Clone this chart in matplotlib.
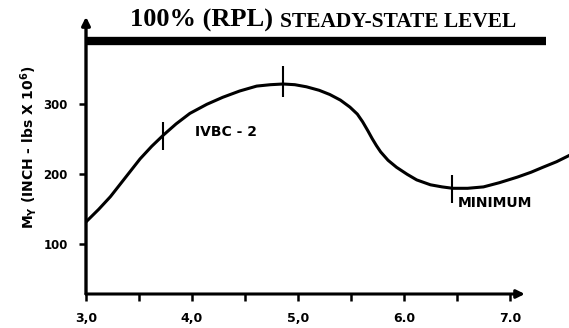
import matplotlib
matplotlib.use("Agg")
import matplotlib.pyplot as plt

# ---------------- Data ----------------
x_curve = [3.0, 3.12, 3.23, 3.37, 3.51, 3.62, 3.73, 3.85, 3.98, 4.14, 4.29,
           4.45, 4.61, 4.74, 4.86, 4.97, 5.08, 5.20, 5.30, 5.40, 5.49, 5.56,
           5.61, 5.66, 5.70, 5.74, 5.78, 5.85, 5.93, 6.03, 6.12, 6.25, 6.36,
           6.46, 6.60, 6.75, 6.90, 7.07, 7.20, 7.31, 7.44, 7.56]
my_curve = [132, 150, 168, 195, 222, 240, 256, 272, 287, 300, 310,
            319, 326, 328, 329, 328, 325, 320, 314, 306, 296, 286,
            275, 262, 251, 241, 232, 220, 210, 200, 192, 185, 182,
            180, 180, 182, 188, 196, 203, 210, 218, 227]

# scatter bands drawn as vertical bars
err_x = [3.73, 4.86, 6.45]
err_lo = [235, 310, 159]
err_hi = [275, 355, 199]

steady_level = 390
steady_x = [3.0, 7.34]

x_ticks = [3.0, 4.0, 5.0, 6.0, 7.0]
x_ticklabels = ["3,0", "4,0", "5,0", "6.0", "7.0"]
x_minor = [3.5, 4.5, 5.5, 6.5]
y_ticks = [100, 200, 300]
y_ticklabels = ["100", "200", "300"]

X_MIN, X_MAX, X_ARROW = 3.0, 7.557, 7.14
Y_MIN, Y_MAX, Y_ARROW = 29, 449, 425

# ---------------- Figure ----------------
fig = plt.figure(figsize=(5.69, 3.28), dpi=100)
ax = fig.add_axes([86 / 569, 34 / 328, 483 / 569, 294 / 328])
ax.set_xlim(X_MIN, X_MAX)
ax.set_ylim(Y_MIN, Y_MAX)
for s in ax.spines.values():
    s.set_visible(False)

# axes drawn by hand with arrow heads
ax.annotate("", xy=(X_MIN, Y_ARROW), xytext=(X_MIN, Y_MIN),
            arrowprops=dict(arrowstyle="-|>", lw=2.4, color="k",
                            mutation_scale=12, shrinkA=0, shrinkB=0),
            annotation_clip=False)
ax.annotate("", xy=(X_ARROW, Y_MIN), xytext=(X_MIN, Y_MIN),
            arrowprops=dict(arrowstyle="-|>", lw=2.2, color="k",
                            mutation_scale=12, shrinkA=0, shrinkB=0),
            annotation_clip=False)

# steady-state level bar
ax.plot(steady_x, [steady_level, steady_level], color="k", lw=6,
        solid_capstyle="butt")

# curve + scatter bars
ax.plot(x_curve, my_curve, color="k", lw=2.2, solid_joinstyle="round")
ax.vlines(err_x, err_lo, err_hi, color="k", lw=1.5)

# ticks
ax.set_xticks(x_ticks)
ax.set_xticklabels(x_ticklabels, fontsize=9, fontweight="bold")
ax.set_xticks(x_minor, minor=True)
ax.set_yticks(y_ticks)
ax.set_yticklabels(y_ticklabels, fontsize=8.5, fontweight="bold")
ax.tick_params(axis="both", which="both", direction="out", length=5,
               width=1.8, pad=8)

ax.set_ylabel(r"M$_{\mathbf{Y}}$ (INCH - lbs X 10$^{\mathbf{6}}$)",
              fontsize=10, fontweight="bold", labelpad=3)

# annotations
ax.text(4.03, 260, "IVBC - 2", fontsize=10, fontweight="bold",
        va="center", ha="left")
ax.text(6.51, 159, "MINIMUM", fontsize=10, fontweight="bold",
        va="center", ha="left")

# title in two sizes
t1 = fig.text(130 / 569, 1 - 27 / 328, "100% (RPL) ", fontsize=19,
              fontweight="bold", family="Liberation Serif", va="baseline")
fig.canvas.draw()
ax.annotate("STEADY-STATE LEVEL", xy=(1, 0), xycoords=t1, va="bottom",
            ha="left", fontsize=15.4, fontweight="bold",
            family="Liberation Serif", annotation_clip=False)

fig.savefig("out.png", dpi=100)
